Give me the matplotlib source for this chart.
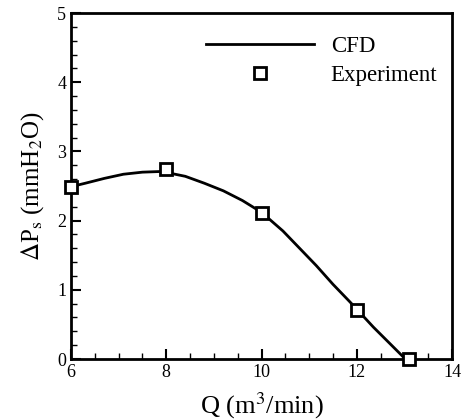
import matplotlib
matplotlib.use('Agg')
import matplotlib.pyplot as plt
from matplotlib.ticker import MultipleLocator

plt.rcParams['font.family'] = ['Liberation Serif', 'DejaVu Serif']
plt.rcParams['mathtext.fontset'] = 'stix'

# CFD curve
cfd_q = [6.0, 6.3, 6.7, 7.1, 7.5, 7.9, 8.4, 8.8, 9.2, 9.6, 10.0, 10.45, 10.8,
         11.15, 11.5, 11.85, 12.0, 12.35, 12.7, 13.02]
cfd_dp = [2.49, 2.54, 2.61, 2.67, 2.70, 2.71, 2.64, 2.54, 2.43, 2.29, 2.12, 1.85, 1.60,
          1.35, 1.08, 0.83, 0.72, 0.46, 0.22, 0.0]

# experiment
exp_q = [6, 8, 10, 12, 13.1]
exp_dp = [2.48, 2.74, 2.11, 0.71, 0.0]

fig = plt.figure(figsize=(4.68, 4.2), dpi=100)
ax = fig.add_axes([71/468, 61/420, 381/468, 346/420])

ax.plot(cfd_q, cfd_dp, color='black', lw=2, label='CFD', solid_joinstyle='round')
ax.plot(exp_q, exp_dp, ls='none', marker='s', ms=8.5, mfc='white', mec='black', mew=2,
        label='Experiment', clip_on=False, zorder=5)

ax.set_xlim(6, 14)
ax.set_ylim(0, 5)
ax.xaxis.set_major_locator(MultipleLocator(2))
ax.xaxis.set_minor_locator(MultipleLocator(0.5))
ax.yaxis.set_major_locator(MultipleLocator(1))
ax.yaxis.set_minor_locator(MultipleLocator(0.2))
ax.tick_params(which='both', direction='in', top=False, right=False, labelsize=13)
ax.tick_params(which='major', length=7, width=1.5)
ax.tick_params(which='minor', length=4, width=1)
for s in ax.spines.values():
    s.set_linewidth(2)

ax.set_xlabel(r'Q (m$^3$/min)', fontsize=19, labelpad=7)
ax.set_ylabel(r'$\Delta$P$_{\rm s}$ (mmH$_2$O)', fontsize=18, labelpad=8)

ax.legend(loc='upper left', bbox_to_anchor=(0.354, 0.935), frameon=False, fontsize=16.5,
          handlelength=4.7, handletextpad=0.75, labelspacing=0.35,
          borderpad=0, borderaxespad=0)

plt.savefig('out.png', dpi=100)
